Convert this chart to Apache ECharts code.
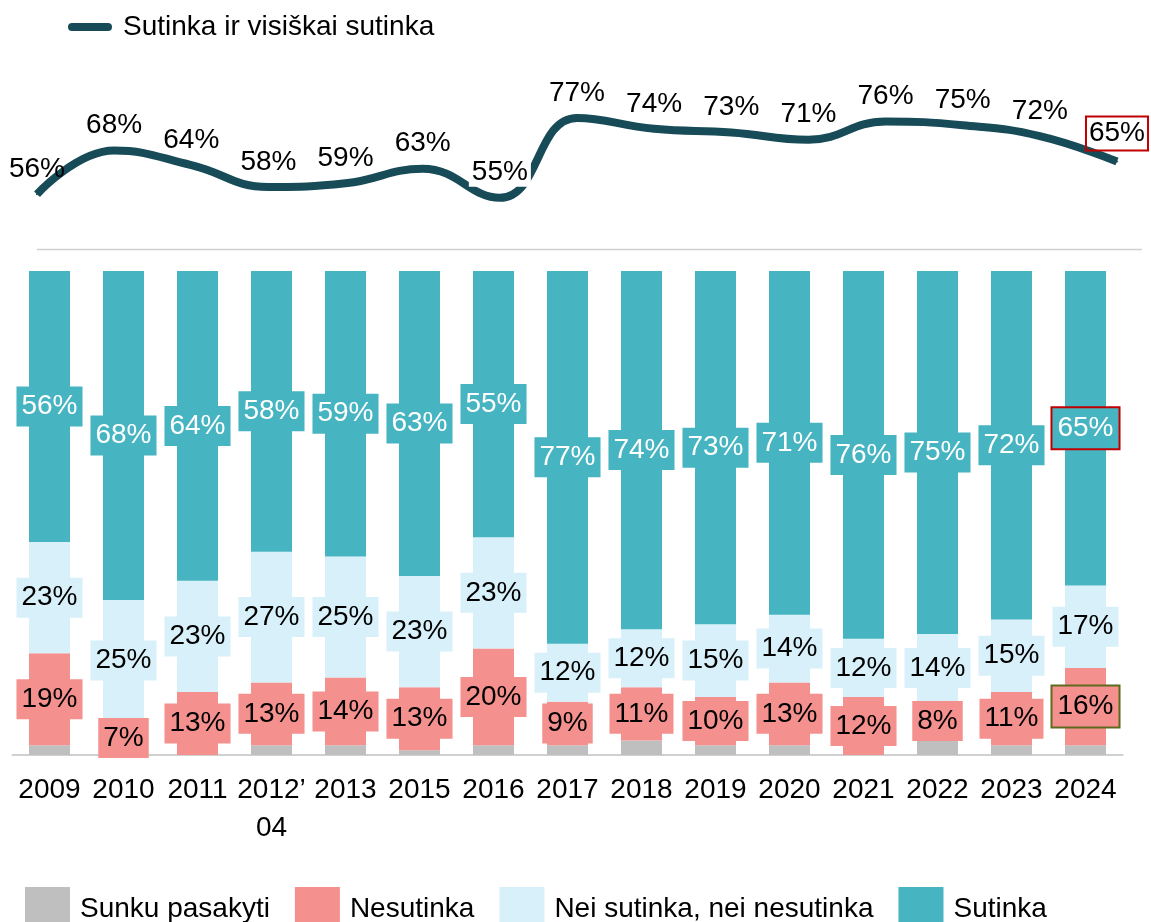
<!DOCTYPE html>
<html>
<head>
<meta charset="utf-8">
<script src="https://cdn.jsdelivr.net/npm/echarts@6/dist/echarts.min.js"></script>
<style>
  html, body { margin: 0; padding: 0; background: #fff; }
  #chart { width: 1151px; height: 922px; }
</style>
</head>
<body>
<div id="chart"></div>
<script>
// duomenys
var years = ['2009', '2010', '2011', '2012’\n04', '2013', '2015', '2016', '2017', '2018', '2019', '2020', '2021', '2022', '2023', '2024'];
var agreeTotal = [56, 68, 64, 58, 59, 63, 55, 77, 74, 73, 71, 76, 75, 72, 65];
var sunku = [2, 0, 0, 2, 2, 1, 2, 2, 3, 2, 2, 0, 3, 2, 2];
var nesutinka = [19, 7, 13, 13, 14, 13, 20, 9, 11, 10, 13, 12, 8, 11, 16];
var nei = [23, 25, 23, 27, 25, 23, 23, 12, 12, 15, 14, 12, 14, 15, 17];
var sutinka = [56, 68, 64, 58, 59, 63, 55, 77, 74, 73, 71, 76, 75, 72, 65];

var FONT = 'Liberation Sans';
var cTeal = '#46B4C1', cLight = '#D8F0F9', cPink = '#F4908D', cGrey = '#BFBFBF', cLine = '#174B57';

var myChart = echarts.init(document.getElementById('chart'));

function withLast(arr, extra) {
    return arr.map(function (v, i) {
        if (i === arr.length - 1) return { value: v, label: extra };
        return v;
    });
}

function barLabel(bg, color) {
    return {
        show: true,
        position: 'inside',
        formatter: '{c}%',
        fontFamily: FONT,
        fontSize: 28,
        color: color,
        backgroundColor: bg,
        padding: [6, 5, 6, 5]
    };
}

// linijos taškai: 2016 etiketė uždengia liniją, 2024 – su rėmeliu
var lineData = agreeTotal.map(function (v, i) {
    if (i === 6) return { value: v, label: { backgroundColor: '#fff', padding: [1, 3, 1, 3] } };
    if (i === agreeTotal.length - 1) return { value: v, label: { borderColor: '#C00000', borderWidth: 2, padding: [3, 3, 3, 3] } };
    return v;
});

var option = {
    backgroundColor: '#fff',
    animation: false,
    textStyle: { fontFamily: FONT },
    legend: [{
        left: 68,
        top: 13,
        padding: 0,
        itemWidth: 44,
        itemHeight: 9,
        data: [{ name: 'Sutinka ir visiškai sutinka', icon: 'path://M4,0 L40,0 A4,4 0 0 1 40,8 L4,8 A4,4 0 0 1 4,0 Z', itemStyle: { color: cLine, opacity: 1 } }],
        textStyle: { fontSize: 28, color: '#000', padding: [0, 0, 0, 6] }
    }, {
        left: 25,
        top: 887,
        padding: 0,
        itemWidth: 45,
        itemHeight: 45,
        itemGap: 25,
        icon: 'rect',
        data: ['Sunku pasakyti', 'Nesutinka', 'Nei sutinka, nei nesutinka', 'Sutinka'],
        textStyle: { fontSize: 28, color: '#000', padding: [0, 0, 0, 5] }
    }],
    grid: [{
        left: 37, right: 34, top: 107, height: 109
    }, {
        left: 12.5, right: 28.5, top: 271, bottom: 167
    }],
    xAxis: [{
        gridIndex: 0,
        type: 'category',
        data: years,
        boundaryGap: false,
        show: false
    }, {
        gridIndex: 1,
        type: 'category',
        data: years,
        axisLine: { lineStyle: { color: '#D0D0D0', width: 2 } },
        axisTick: { show: false },
        axisLabel: { fontSize: 28, color: '#000', margin: 16, lineHeight: 38, interval: 0 }
    }],
    yAxis: [{
        gridIndex: 0,
        type: 'value',
        min: 50,
        max: 80,
        show: false
    }, {
        gridIndex: 1,
        type: 'value',
        min: 0,
        max: 100,
        show: false
    }],
    graphic: [{
        type: 'line',
        shape: { x1: 37, y1: 249.5, x2: 1142, y2: 249.5 },
        style: { stroke: '#D0D0D0', lineWidth: 1.5 }
    }],
    series: [{
        name: 'Sutinka ir visiškai sutinka',
        type: 'line',
        xAxisIndex: 0,
        yAxisIndex: 0,
        smooth: 0.45,
        symbol: 'circle',
        symbolSize: 2,
        showSymbol: true,
        showAllSymbol: true,
        lineStyle: { color: cLine, width: 8 },
        itemStyle: { color: cLine },
        label: {
            show: true,
            position: 'top',
            distance: 10,
            formatter: '{c}%',
            fontSize: 28,
            color: '#000'
        },
        labelLayout: { hideOverlap: false },
        data: lineData
    }, {
        name: 'Sunku pasakyti',
        type: 'bar',
        stack: 'all',
        xAxisIndex: 1,
        yAxisIndex: 1,
        barWidth: 41,
        itemStyle: { color: cGrey },
        data: sunku
    }, {
        name: 'Nesutinka',
        type: 'bar',
        stack: 'all',
        xAxisIndex: 1,
        yAxisIndex: 1,
        barWidth: 41,
        itemStyle: { color: cPink },
        label: barLabel(cPink, '#000'),
        data: withLast(nesutinka, { borderColor: '#5E6B1E', borderWidth: 2 })
    }, {
        name: 'Nei sutinka, nei nesutinka',
        type: 'bar',
        stack: 'all',
        xAxisIndex: 1,
        yAxisIndex: 1,
        barWidth: 41,
        itemStyle: { color: cLight },
        label: barLabel(cLight, '#000'),
        data: nei
    }, {
        name: 'Sutinka',
        type: 'bar',
        stack: 'all',
        xAxisIndex: 1,
        yAxisIndex: 1,
        barWidth: 41,
        itemStyle: { color: cTeal },
        label: barLabel(cTeal, '#fff'),
        data: withLast(sutinka, { borderColor: '#C00000', borderWidth: 2 })
    }]
};

myChart.setOption(option);
</script>
</body>
</html>
